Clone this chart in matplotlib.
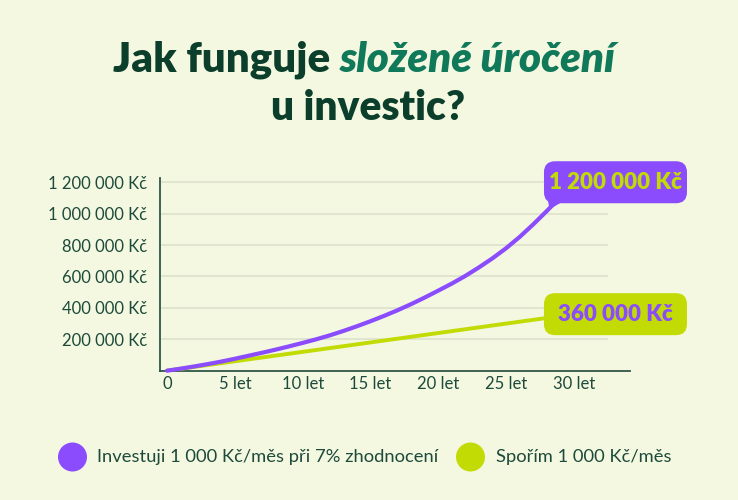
import matplotlib
matplotlib.use('Agg')
import matplotlib.pyplot as plt
from matplotlib.patches import FancyBboxPatch, Circle, Polygon
from matplotlib.transforms import IdentityTransform

# ---------------- data ----------------
years = list(range(0, 31))
invest_values = [0, 13000, 27000, 42000, 58000, 76000, 95000, 114000, 134000, 155000,
                 177000, 200000, 225000, 253000, 283000, 315000, 349000, 385000, 424000,
                 466000, 510000, 555000, 604000, 658000, 716000, 780000, 852000, 932000,
                 1017000, 1106000, 1200000]
save_years = [0, 30]
save_values = [0, 360000]

y_ticks = [200000, 400000, 600000, 800000, 1000000, 1200000]
y_tick_labels = ['200 000 Kč', '400 000 Kč', '600 000 Kč', '800 000 Kč',
                 '1 000 000 Kč', '1 200 000 Kč']
x_ticks = [0, 5, 10, 15, 20, 25, 30]
x_tick_labels = ['0', '5 let', '10 let', '15 let', '20 let', '25 let', '30 let']

end_labels = ['1 200 000 Kč', '360 000 Kč']
legend_labels = ['Investuji 1 000 Kč/měs při 7% zhodnocení', 'Spořím 1 000 Kč/měs']
title_part1 = 'Jak funguje'
title_part2 = 'složené úročení'
title_line2 = 'u investic?'

# ---------------- style ----------------
BG = '#F4F8E1'
TITLE_DARK = '#0B3F2C'
TITLE_GREEN = '#10795A'
PURPLE = '#8A4CFC'
LIME = '#C3DB04'
TEXT = '#1D4A3A'
GRID = '#DCE2CD'
AXIS = '#2F5646'
FONT = 'Lato'

W, H = 738, 500
fig = plt.figure(figsize=(W / 100, H / 100), dpi=100, facecolor=BG)

ax = fig.add_axes([160 / W, 1 - 370.7 / H, 470 / W, (370.7 - 178) / H])
ax.set_facecolor(BG)
xmin, xmax = -0.516, 34.13
ax.set_xlim(xmin, xmax)
ax.set_ylim(0, 1.227e6)

for s in ['top', 'right']:
    ax.spines[s].set_visible(False)
for s in ['left', 'bottom']:
    ax.spines[s].set_color(AXIS)
    ax.spines[s].set_linewidth(1.3)

ax.hlines(y_ticks[:-1], xmin, 32.5, color=GRID, lw=1.2, zorder=1)
ax.hlines(y_ticks[-1:], xmin, 28.5, color=GRID, lw=1.2, zorder=1)

ax.set_yticks(y_ticks)
ax.set_yticklabels(y_tick_labels, fontsize=12, color=TEXT, family=FONT)
ax.set_xticks(x_ticks)
ax.set_xticklabels(x_tick_labels, fontsize=12, color=TEXT, family=FONT)
ax.tick_params(axis='y', length=0, pad=9)
ax.tick_params(axis='x', length=0, pad=4)

ax.plot(save_years, save_values, color=LIME, lw=2.8, solid_capstyle='round', zorder=3)
ax.plot(years, invest_values, color=PURPLE, lw=3.0, solid_capstyle='round',
        solid_joinstyle='round', zorder=4, clip_on=False)

# end-value label boxes
box_w, box_h = 143, 42
dx = 41.5
tr = IdentityTransform()
for (xv, yv, lab, fc, tc, tail) in [
        (years[-1], invest_values[-1], end_labels[0], PURPLE, LIME, True),
        (save_years[-1], save_values[-1], end_labels[1], LIME, PURPLE, False)]:
    px, py = ax.transData.transform((xv, yv))
    cx, cy = px + dx, py
    patch = FancyBboxPatch((cx - box_w / 2, cy - box_h / 2), box_w, box_h,
                           boxstyle='round,pad=0,rounding_size=11',
                           fc=fc, ec='none', transform=tr, zorder=10)
    fig.add_artist(patch)
    if tail:
        tri = Polygon([(cx - 68, cy - 15), (cx - 52, cy - 19), (cx - 66, cy - 27)],
                      closed=True, fc=fc, ec='none', transform=tr, zorder=10)
        fig.add_artist(tri)
    fig.text(cx, cy, lab, transform=tr, ha='center', va='center', fontsize=16,
             fontweight='heavy', color=tc, family=FONT, zorder=11)

# ---------------- title ----------------
renderer = fig.canvas.get_renderer()
tsize = 25


def measure(s, **kw):
    t = fig.text(0, 0, s, fontsize=tsize, family=FONT, fontweight='heavy', **kw)
    w = t.get_window_extent(renderer).width
    t.remove()
    return w


w1 = measure(title_part1)
w2 = measure(title_part2, style='italic')
wsp = measure('a a') - measure('aa')
total = w1 + wsp + w2
scale = 503 / total
tsize = tsize * scale
w1 *= scale
wsp *= scale
w2 *= scale
total = w1 + wsp + w2
x0 = 364.5 - total / 2
yb1 = H - 71.7
fig.text(x0, yb1, title_part1, transform=tr, fontsize=tsize, family=FONT,
         fontweight='heavy', color=TITLE_DARK, ha='left', va='baseline')
fig.text(x0 + w1 + wsp, yb1, title_part2, transform=tr, fontsize=tsize, family=FONT,
         fontweight='heavy', style='italic', color=TITLE_GREEN, ha='left', va='baseline')
fig.text(368, H - 120, title_line2, transform=tr, fontsize=tsize * 0.97, family=FONT,
         fontweight='heavy', color=TITLE_DARK, ha='center', va='baseline')

# ---------------- legend ----------------
ly = H - 457
for (cx, tx, col, lab) in [(72.5, 97, PURPLE, legend_labels[0]),
                           (470.5, 495.5, LIME, legend_labels[1])]:
    fig.add_artist(Circle((cx, ly), 14.5, fc=col, ec='none', transform=tr))
    fig.text(tx, ly, lab, transform=tr, fontsize=13.2, family=FONT, color=TEXT,
             ha='left', va='center')

fig.savefig('out.png', dpi=100, facecolor=BG)
